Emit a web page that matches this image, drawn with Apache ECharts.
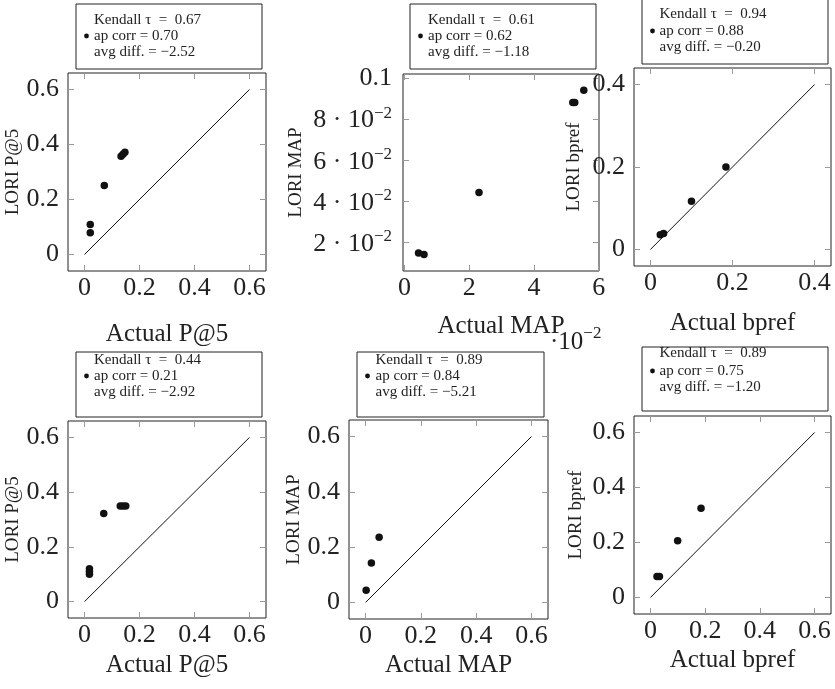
<!DOCTYPE html>
<html><head><meta charset="utf-8">
<script src="https://cdn.jsdelivr.net/npm/echarts@6/dist/echarts.min.js"></script>
<style>html,body{margin:0;padding:0;background:#fff}#c{width:835px;height:689px}</style>
</head><body><div id="c"></div>
<script>
// ---------- data ----------
const p1X = [0.021, 0.021, 0.072, 0.133, 0.140, 0.147];
const p1Y = [0.109, 0.079, 0.251, 0.357, 0.365, 0.372];
const p2X = [0.0043, 0.0060, 0.0230, 0.0520, 0.0526, 0.0554];
const p2Y = [0.0148, 0.0140, 0.0442, 0.0881, 0.0881, 0.0941];
const p3X = [0.024, 0.032, 0.100, 0.184];
const p3Y = [0.036, 0.039, 0.117, 0.200];
const p4X = [0.018, 0.018, 0.018, 0.070, 0.130, 0.140, 0.150];
const p4Y = [0.120, 0.110, 0.100, 0.322, 0.349, 0.349, 0.349];
const p5X = [0.002, 0.021, 0.049];
const p5Y = [0.044, 0.143, 0.236];
const p6X = [0.024, 0.033, 0.0995, 0.185];
const p6Y = [0.076, 0.076, 0.206, 0.325];

const kendallTau = [0.67, 0.61, 0.94, 0.44, 0.89, 0.89];
const apCorr = [0.70, 0.62, 0.88, 0.21, 0.84, 0.75];
const avgDiff = [-2.52, -1.18, -0.20, -2.92, -5.21, -1.20];

const xTitles = ['Actual P@5', 'Actual MAP', 'Actual bpref', 'Actual P@5', 'Actual MAP', 'Actual bpref'];
const yTitles = ['LORI P@5', 'LORI MAP', 'LORI bpref', 'LORI P@5', 'LORI MAP', 'LORI bpref'];

const ticks06 = [0, 0.2, 0.4, 0.6];
const ticks04 = [0, 0.2, 0.4];
const mapXTicks = [0, 0.02, 0.04, 0.06];
const mapYTicks = [0.02, 0.04, 0.06, 0.08, 0.1];
const diag06 = [0, 0.6];
const diag04 = [0, 0.4];

// ---------- layout ----------
const SERIF = '"Liberation Serif", "DejaVu Serif", serif';
const panels = [
  {x: p1X, y: p1Y, grid: [68, 73, 198, 198], xr: [-0.06, 0.66], yr: [-0.06, 0.66], xt: ticks06, yt: ticks06, diag: diag06, xGap: 51, yGap: 45, yMargin: 9},
  {x: p2X, y: p2Y, grid: [403, 74, 196, 197], xr: [-0.0005, 0.0601], yr: [0.006, 0.102], xt: mapXTicks, yt: mapYTicks, diag: null, xGap: 43, yGap: 97, yMargin: 11, map: true},
  {x: p3X, y: p3Y, grid: [634, 68, 197, 198], xr: [-0.04, 0.44], yr: [-0.04, 0.44], xt: ticks04, yt: ticks04, diag: diag04, xGap: 45, yGap: 50, yMargin: 9},
  {x: p4X, y: p4Y, grid: [68, 421, 198, 197], xr: [-0.06, 0.66], yr: [-0.06, 0.66], xt: ticks06, yt: ticks06, diag: diag06, xGap: 35, yGap: 45, yMargin: 9},
  {x: p5X, y: p5Y, grid: [349, 420, 199, 199], xr: [-0.06, 0.66], yr: [-0.06, 0.66], xt: ticks06, yt: ticks06, diag: diag06, xGap: 34, yGap: 43, yMargin: 9},
  {x: p6X, y: p6Y, grid: [634, 416, 197, 198], xr: [-0.06, 0.66], yr: [-0.06, 0.66], xt: ticks06, yt: ticks06, diag: diag06, xGap: 34, yGap: 48, yMargin: 9}
];
const legendLayout = [
  {box: [76, 4, 186, 65], tx: 94, dot: 86.5, ly: [20, 36, 52]},
  {box: [410, 4, 186, 65], tx: 428, dot: 420.5, ly: [20, 36, 52]},
  {box: [642, -2, 186, 66], tx: 659.5, dot: 652.5, ly: [14, 31, 47.5]},
  {box: [76, 352, 186, 65], tx: 94, dot: 86.5, ly: [360, 376, 392.5]},
  {box: [357, 352, 187, 65], tx: 375.5, dot: 367.5, ly: [360, 376, 392]},
  {box: [642, 347, 186, 64], tx: 659.5, dot: 652.5, ly: [353.5, 371, 387.5]}
];

const fmtPlain = v => v === 0 ? '0' : String(+v.toFixed(2));
const fmtSigned = v => (v < 0 ? '\u2212' : '') + Math.abs(v).toFixed(2);
const tickLine = {color: '#9a9a9a', width: 1};
const noLine = {show: false, onZero: false};

const grids = [], xAxes = [], yAxes = [], series = [], graphics = [];

panels.forEach((p, i) => {
  grids.push({left: p.grid[0], top: p.grid[1], width: p.grid[2], height: p.grid[3],
    show: true, borderColor: '#222', borderWidth: 1, backgroundColor: 'transparent'});
  xAxes.push({
    gridIndex: i, type: 'value', min: p.xr[0], max: p.xr[1], position: 'bottom',
    axisLine: noLine, splitLine: {show: false},
    axisTick: {show: true, inside: true, length: 6, customValues: p.xt, lineStyle: tickLine},
    axisLabel: {show: true, customValues: p.xt, margin: 4, color: '#222', fontFamily: SERIF, fontSize: 26,
      formatter: p.map ? (v => String(Math.round(v * 100))) : fmtPlain},
    name: xTitles[i], nameLocation: 'middle', nameGap: p.xGap,
    nameTextStyle: {fontFamily: SERIF, fontSize: 25, color: '#222'}
  });
  xAxes.push({
    gridIndex: i, type: 'value', min: p.xr[0], max: p.xr[1], position: 'top',
    axisLine: noLine, splitLine: {show: false},
    axisTick: {show: true, inside: true, length: 6, customValues: p.xt, lineStyle: tickLine},
    axisLabel: {show: false}
  });
  yAxes.push({
    gridIndex: i, type: 'value', min: p.yr[0], max: p.yr[1], position: 'left',
    axisLine: noLine, splitLine: {show: false},
    axisTick: {show: true, inside: true, length: 6, customValues: p.yt, lineStyle: tickLine},
    axisLabel: {show: true, customValues: p.yt, margin: p.yMargin, color: '#222', fontFamily: SERIF, fontSize: 26,
      formatter: p.map
        ? (v => Math.abs(v - 0.1) < 1e-9 ? '{n|0.1}' : '{n|' + Math.round(v * 100) + ' \u00b7 10}{s|\u22122}')
        : fmtPlain,
      rich: p.map ? {
        n: {fontFamily: SERIF, fontSize: 26, color: '#222', verticalAlign: 'bottom'},
        s: {fontFamily: SERIF, fontSize: 17, color: '#222', verticalAlign: 'top', padding: [0, 0, 12, 0]}
      } : undefined},
    name: yTitles[i], nameLocation: 'middle', nameGap: p.yGap,
    nameTextStyle: {fontFamily: SERIF, fontSize: 19, color: '#222'}
  });
  yAxes.push({
    gridIndex: i, type: 'value', min: p.yr[0], max: p.yr[1], position: 'right',
    axisLine: noLine, splitLine: {show: false},
    axisTick: {show: true, inside: true, length: 6, customValues: p.yt, lineStyle: tickLine},
    axisLabel: {show: false}
  });

  if (p.diag) {
    series.push({type: 'line', xAxisIndex: 2 * i, yAxisIndex: 2 * i, showSymbol: false, symbol: 'none',
      data: [[p.diag[0], p.diag[0]], [p.diag[1], p.diag[1]]],
      lineStyle: {color: '#111', width: 1}, silent: true, animation: false});
  }
  series.push({type: 'scatter', xAxisIndex: 2 * i, yAxisIndex: 2 * i, symbol: 'circle', symbolSize: 7.5,
    data: p.x.map((v, k) => [v, p.y[k]]), itemStyle: {color: '#111', opacity: 1}, animation: false});

  const L = legendLayout[i];
  graphics.push({type: 'rect', shape: {x: L.box[0], y: L.box[1], width: L.box[2], height: L.box[3]},
    style: {fill: '#fff', stroke: '#222', lineWidth: 1}, z: 50});
  graphics.push({type: 'circle', shape: {cx: L.dot, cy: L.ly[1], r: 2.4}, style: {fill: '#111'}, z: 51});
  const lines = [
    'Kendall \u03c4  =  ' + kendallTau[i].toFixed(2),
    'ap corr = ' + apCorr[i].toFixed(2),
    'avg diff. = ' + fmtSigned(avgDiff[i])
  ];
  lines.forEach((t, k) => {
    graphics.push({type: 'text', x: L.tx, y: L.ly[k], z: 51,
      style: {text: t, fontFamily: SERIF, fontSize: 15, fill: '#222', verticalAlign: 'middle', align: 'left'}});
  });
});

graphics.push({type: 'text', x: 550, y: 340, z: 52,
  style: {text: '{n|\u00b710}{s|\u22122}', verticalAlign: 'middle', align: 'left',
    rich: {n: {fontFamily: SERIF, fontSize: 25, fill: '#222', verticalAlign: 'bottom'},
           s: {fontFamily: SERIF, fontSize: 17, fill: '#222', verticalAlign: 'top', padding: [0, 0, 12, 0]}}}});

const chart = echarts.init(document.getElementById('c'), null, {renderer: 'canvas'});
chart.setOption({
  backgroundColor: '#fff',
  animation: false,
  grid: grids, xAxis: xAxes, yAxis: yAxes, series: series, graphic: graphics
});
</script></body></html>
